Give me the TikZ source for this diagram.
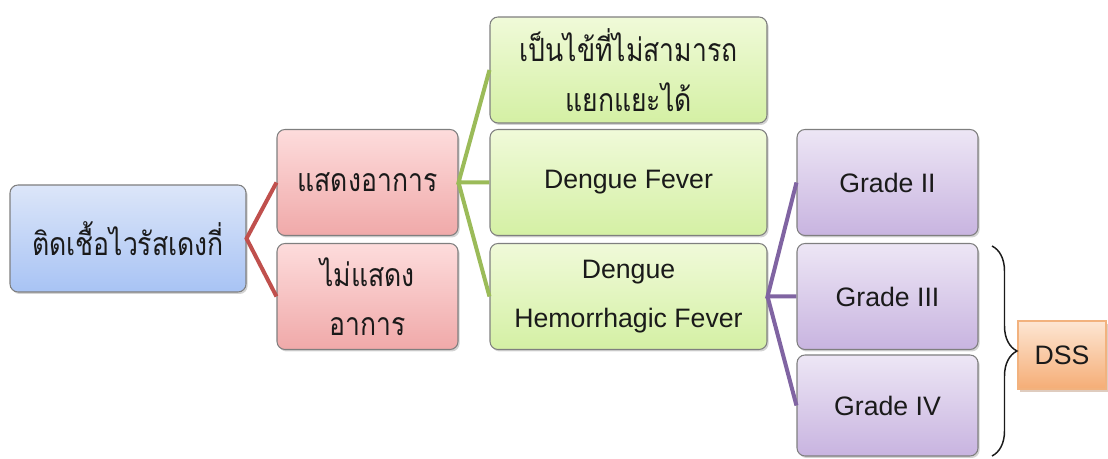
\documentclass[tikz,border=0pt]{standalone}
\usepackage{fontspec}
\setmainfont{Liberation Sans}
\newfontfamily\thai[Script=Thai, Scale=1.2, FakeStretch=0.83]{Loma}
\usetikzlibrary{shadows,decorations.pathreplacing}
\definecolor{txt}{HTML}{1A1A1A}
\definecolor{bordergray}{HTML}{7F7F7F}
\definecolor{redline}{HTML}{C0504D}
\definecolor{greenline}{HTML}{9BBB59}
\definecolor{purpleline}{HTML}{8064A2}
\definecolor{blueT}{HTML}{DCE6F9}\definecolor{blueB}{HTML}{A8C3F4}
\definecolor{redT}{HTML}{FDDCDC}\definecolor{redB}{HTML}{F0A9A9}
\definecolor{greenT}{HTML}{F0FAD9}\definecolor{greenB}{HTML}{D4F0A4}
\definecolor{purpT}{HTML}{EDE6F5}\definecolor{purpB}{HTML}{C8B4E0}
\definecolor{orT}{HTML}{FDE6D3}\definecolor{orB}{HTML}{F5AD76}
\definecolor{orD}{HTML}{F2B27E}\definecolor{orS}{HTML}{B08060}
\tikzset{
  box/.style={draw=bordergray, line width=0.8pt, rounded corners=6pt, inner sep=0pt,
    align=center, text=txt, font=\fontsize{20}{37}\selectfont,
    drop shadow={shadow xshift=1.2pt, shadow yshift=-1.5pt, opacity=0.35}},
  bluebox/.style={box, top color=blueT, bottom color=blueB,
    minimum width=177pt, minimum height=80.25pt},
  redbox/.style={box, top color=redT, bottom color=redB,
    minimum width=135.75pt, minimum height=79.5pt},
  greenbox/.style={box, top color=greenT, bottom color=greenB,
    minimum width=207.75pt, minimum height=79.5pt},
  purplebox/.style={box, top color=purpT, bottom color=purpB,
    minimum width=135.75pt, minimum height=79.5pt},
  orangebox/.style={draw=orD, line width=0.8pt, inner sep=0pt,
    top color=orT, bottom color=orB, text=txt,
    font=\fontsize{20}{24}\selectfont, minimum width=66pt, minimum height=51pt,
    drop shadow={shadow xshift=1.5pt, shadow yshift=-2pt, opacity=0.4, fill=orS}},
  link/.style={line width=3pt},
}
\begin{document}
\begin{tikzpicture}[x=0.75pt, y=-0.75pt]
\useasboundingbox (0,0) rectangle (1108,459);
\node[bluebox] (root) at (128,238.5) {\thai ติดเชื้อไวรัสเดงกี่};
\node[redbox] (sym) at (367.5,182.5) {\thai แสดงอาการ};
\node[redbox] (nosym) at (367.5,296.5) {\thai ไม่แสดง\\\thai อาการ};
\node[greenbox] (uf) at (628.5,70) {\thai เป็นไข้ที่ไม่สามารถ\\\thai แยกแยะได้};
\node[greenbox] (df) at (628.5,182.5) {Dengue Fever};
\node[greenbox] (dhf) at (628.5,296.5) {Dengue\\Hemorrhagic Fever};
\node[purplebox] (g2) at (887.5,182.5) {Grade II};
\node[purplebox] (g3) at (887.5,296.5) {Grade III};
\node[purplebox, minimum height=75.75pt] (g4) at (887.5,405.5) {Grade IV};
\node[orangebox] (dss) at (1062,355) {DSS};

\draw[link, redline] (sym.west) -- (root.east) -- (nosym.west);
\draw[link, greenline] (uf.west) -- (sym.east) -- (df.west);
\draw[link, greenline] (sym.east) -- (dhf.west);
\draw[link, purpleline] (g2.west) -- (dhf.east) -- (g3.west);
\draw[link, purpleline] (dhf.east) -- (g4.west);

\coordinate (bt) at (992,246);
\coordinate (bb) at (992,456);
\draw[line width=1.1pt, txt, decorate, decoration={brace, amplitude=18.75pt}] (bt) -- (bb);
\end{tikzpicture}
\end{document}
